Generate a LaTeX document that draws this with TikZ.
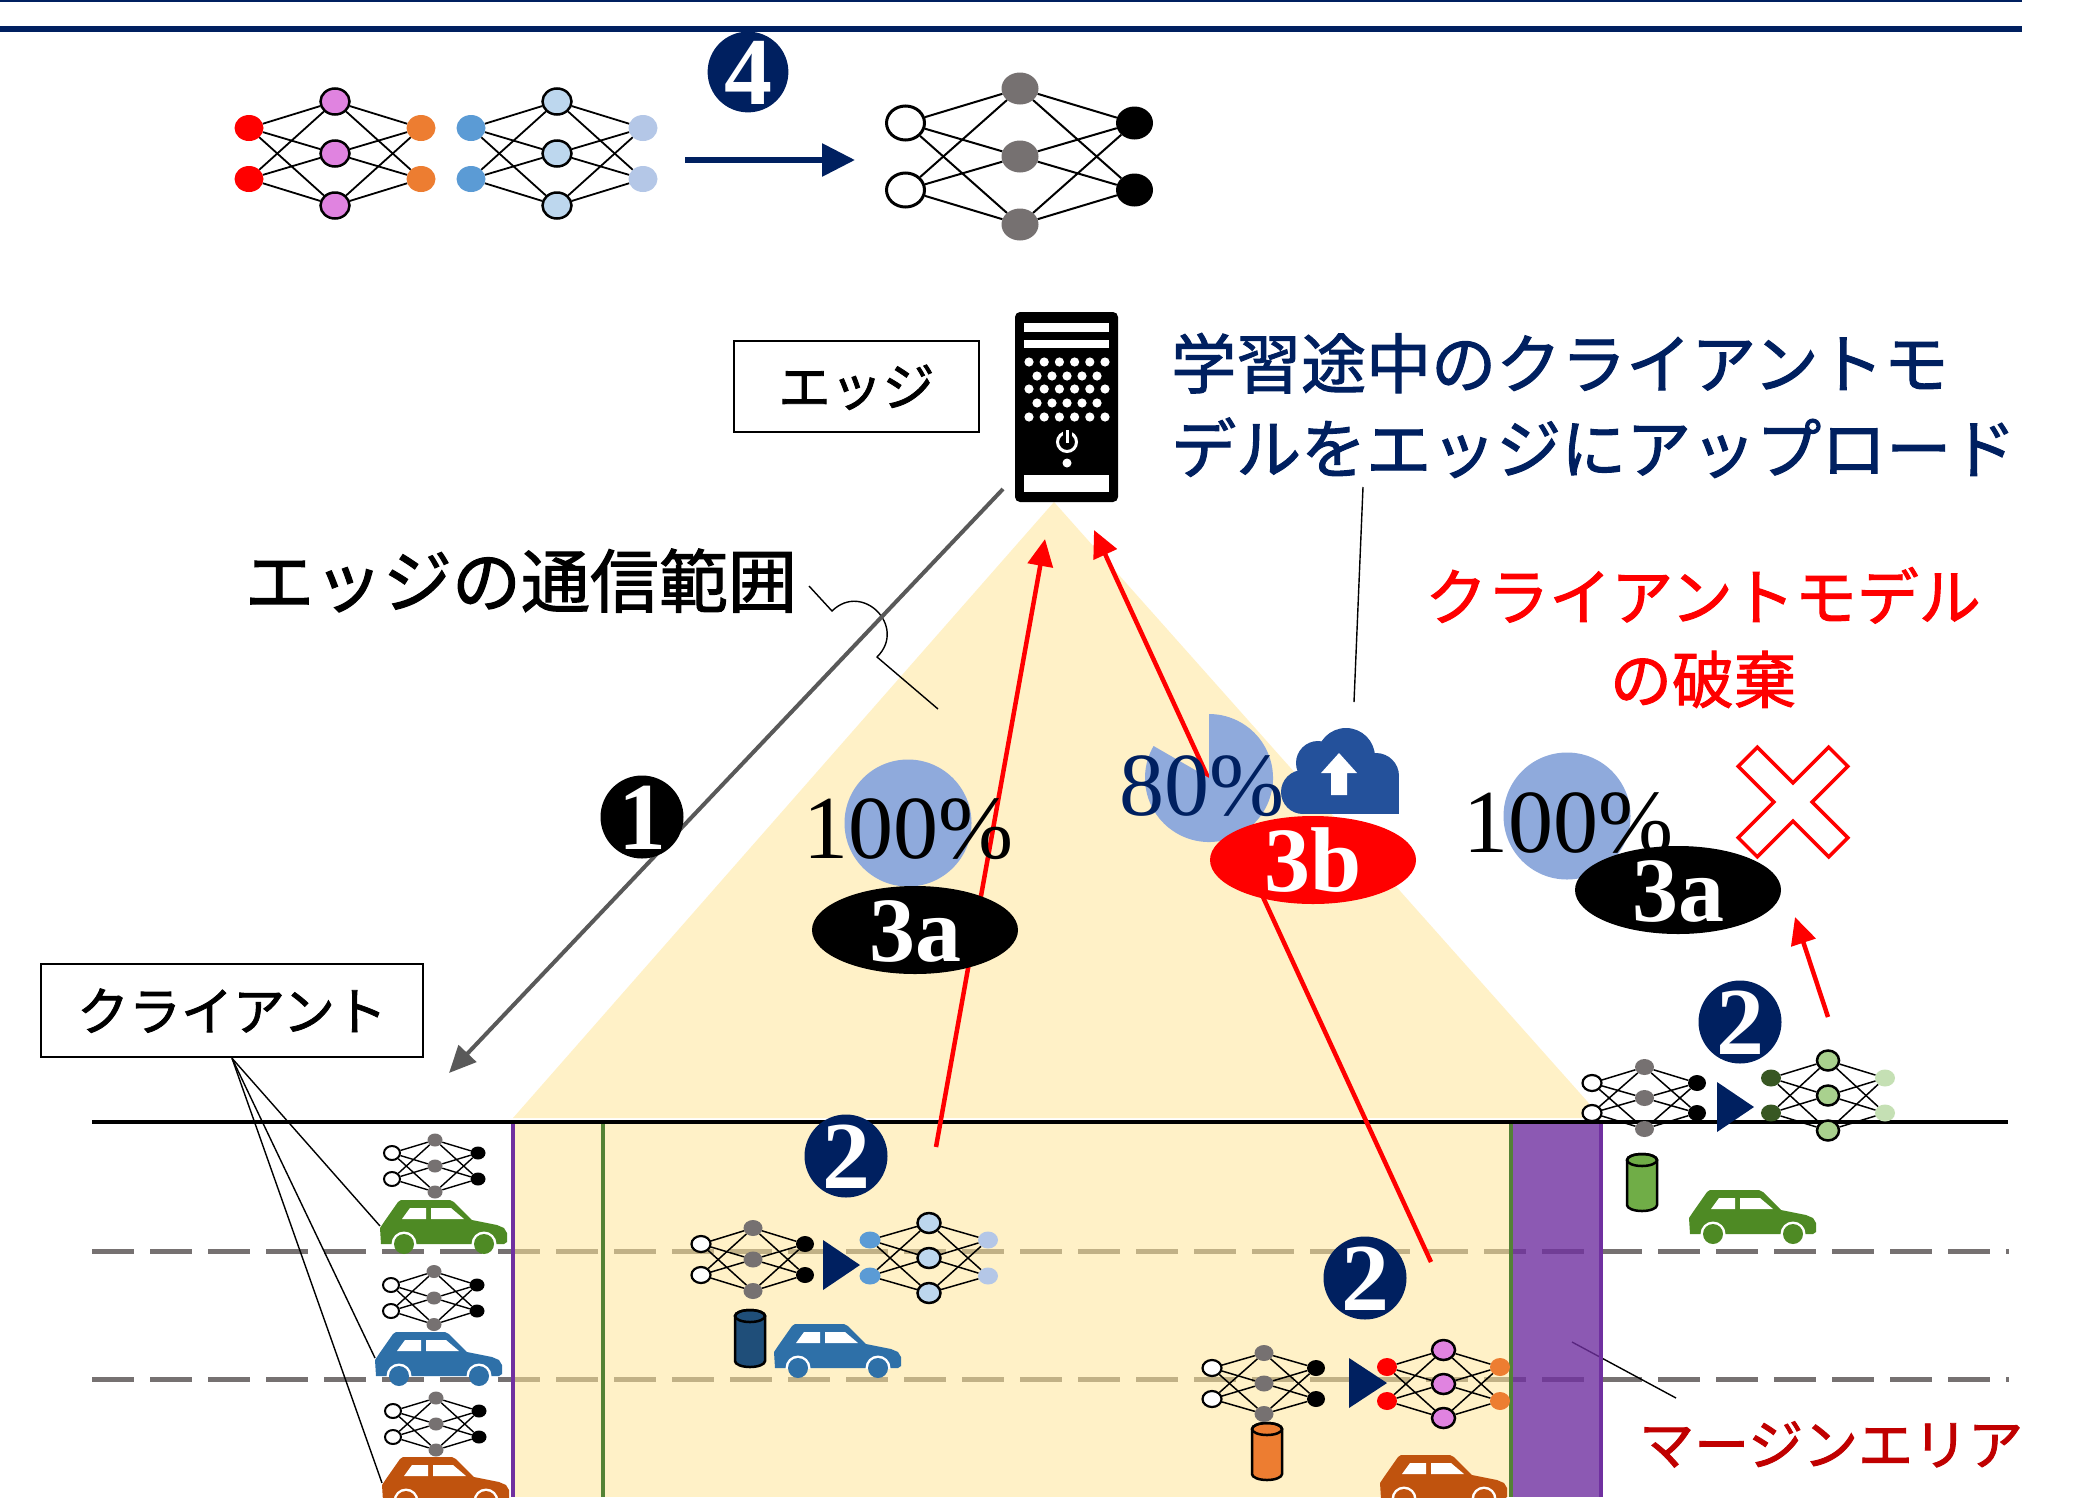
\documentclass[tikz,border=0pt]{standalone}
\usepackage{fontspec}
\setmainfont{Liberation Serif}
\newfontfamily\jpfont[RawFeature={embolden=1.6}]{Noto Sans CJK JP}
\usetikzlibrary{shapes.geometric,arrows.meta}

\definecolor{cNavy}{HTML}{002060}
\definecolor{cRed}{HTML}{FF0000}
\definecolor{cDarkRed}{HTML}{C00000}
\definecolor{cViolet}{HTML}{E083E0}
\definecolor{cOrange}{HTML}{ED7D31}
\definecolor{cBlueIn}{HTML}{5B9BD5}
\definecolor{cBlueHid}{HTML}{BDD7EE}
\definecolor{cBlueOut}{HTML}{B4C7E7}
\definecolor{cGray}{HTML}{767171}
\definecolor{cGreenIn}{HTML}{385723}
\definecolor{cGreenHid}{HTML}{A9D18E}
\definecolor{cGreenOut}{HTML}{C5E0B4}
\definecolor{cCarGreen}{HTML}{4E8A24}
\definecolor{cCarBlue}{HTML}{2E70A8}
\definecolor{cCarOrange}{HTML}{C0530E}
\definecolor{cCylNavy}{HTML}{1F4E79}
\definecolor{cCylGreen}{HTML}{70AD47}
\definecolor{cPie}{HTML}{8FAADC}
\definecolor{cCloud}{HTML}{24519B}
\definecolor{cRange}{HTML}{FFE699}
\definecolor{cMargin}{HTML}{7030A0}
\definecolor{cLineGreen}{HTML}{548235}
\definecolor{cArrowGray}{HTML}{595959}

\newcommand{\jfs}[1]{\jpfont\fontsize{#1}{#1}\selectfont}
\newcommand{\rmfs}[1]{\rmfamily\fontsize{#1}{#1}\selectfont}
\newcommand{\bffs}[1]{\rmfamily\bfseries\fontsize{#1}{#1}\selectfont}

\tikzset{
  nnedge/.style={line width=1.5},
  netnode/.style 2 args={ellipse, inner sep=0, minimum width=#1, minimum height=#2},
  badge/.style={circle, minimum size=83, inner sep=0, text=white, font=\bffs{96}, text height=65pt, text depth=0pt},
  stepmark/.style={ellipse, minimum width=206, minimum height=88, inner sep=0, text=white, font=\bffs{92}, text height=62pt, text depth=0pt},
  labelbox/.style={draw=black, line width=2.5, inner sep=0},
  leader/.style={line width=1.4, black},
  lanedash/.style={cGray, line width=5, dash pattern=on 42pt off 16pt},
  rangefill/.style={fill=cRange, fill opacity=0.55},
  redarrow/.style={cRed, line width=4.5, -{Triangle[length=27pt,width=25pt]}},
  pct/.style={anchor=base, inner sep=0, font=\rmfs{90}},
  jtext/.style={anchor=base, inner sep=0, font=\jfs{#1}},
  % client networks
  netS/.style={nin/.style={netnode={16}{14}, fill=white, draw=black, line width=2},
               nhid/.style={netnode={15}{13}, fill=cGray},
               nout/.style={netnode={15}{13}, fill=black},
               nnedge/.style={line width=1.4}},
  netM/.style={nin/.style={netnode={19}{16}, fill=white, draw=black, line width=2.2},
               nhid/.style={netnode={19}{16}, fill=cGray},
               nout/.style={netnode={18}{16}, fill=black},
               nnedge/.style={line width=1.5}},
  netBlue/.style={nin/.style={netnode={21}{17}, fill=cBlueIn},
                  nhid/.style={netnode={23}{20}, fill=cBlueHid, draw=black, line width=2.5},
                  nout/.style={netnode={20}{17}, fill=cBlueOut},
                  nnedge/.style={line width=1.5}},
  netGreen/.style={nin/.style={netnode={20}{17}, fill=cGreenIn},
                   nhid/.style={netnode={22}{20}, fill=cGreenHid, draw=black, line width=2.5},
                   nout/.style={netnode={20}{17}, fill=cGreenOut},
                   nnedge/.style={line width=1.5}},
  netPink/.style={nin/.style={netnode={20}{18}, fill=cRed},
                  nhid/.style={netnode={23}{20}, fill=cViolet, draw=black, line width=2.5},
                  nout/.style={netnode={20}{18}, fill=cOrange},
                  nnedge/.style={line width=1.5}},
  % aggregated networks at the top
  netTopA/.style={nin/.style={netnode={29}{26}, fill=cRed},
                  nhid/.style={netnode={29}{26}, fill=cViolet, draw=black, line width=2.5},
                  nout/.style={netnode={29}{26}, fill=cOrange},
                  nnedge/.style={line width=1.8}},
  netTopB/.style={nin/.style={netnode={29}{26}, fill=cBlueIn},
                  nhid/.style={netnode={29}{26}, fill=cBlueHid, draw=black, line width=2.5},
                  nout/.style={netnode={29}{26}, fill=cBlueOut},
                  nnedge/.style={line width=1.8}},
  netTopC/.style={nin/.style={netnode={38}{34}, fill=white, draw=black, line width=3},
                  nhid/.style={netnode={37}{32}, fill=cGray},
                  nout/.style={netnode={37}{33}, fill=black},
                  nnedge/.style={line width=2}},
}

% 2-3-2 network: name, centre x, centre y, half width, input/output offset, hidden offset
\newcommand{\drawnet}[6]{%
  \node[nin]  (#1i1) at (#2-#4,#3-#5) {};
  \node[nin]  (#1i2) at (#2-#4,#3+#5) {};
  \node[nhid] (#1h1) at (#2,#3-#6) {};
  \node[nhid] (#1h2) at (#2,#3) {};
  \node[nhid] (#1h3) at (#2,#3+#6) {};
  \node[nout] (#1o1) at (#2+#4,#3-#5) {};
  \node[nout] (#1o2) at (#2+#4,#3+#5) {};
  \foreach \q in {h1,h2,h3}{%
    \draw[nnedge] (#1i1) -- (#1\q);
    \draw[nnedge] (#1i2) -- (#1\q);
    \draw[nnedge] (#1\q) -- (#1o1);
    \draw[nnedge] (#1\q) -- (#1o2);
  }%
}

% car seen from the side: name, left x, top y, colour
\newcommand{\drawcar}[4]{%
  \begin{scope}[shift={(#2,#3)}]
    \fill[#4] (1,44) -- (0,28) -- (4,22) -- (18,2) -- (21,0) -- (70,0) -- (74,2)
      -- (92,20) -- (117,25) -- (124,28) -- (127,33) -- (127,42) -- (124,44) -- cycle;
    \fill[white] (22,19) -- (30,8) -- (46,8) -- (46,19) -- cycle;
    \fill[white] (51,8) -- (71,8) -- (84,19) -- (51,19) -- cycle;
    \begin{scope}
      \clip (-5,-5) rectangle (132,44);
      \fill[white] (24,44) circle (12.5pt) (104,44) circle (12.5pt);
    \end{scope}
    \fill[#4] (24,44) circle (10pt) (104,44) circle (10pt);
    \coordinate (#1) at (0,26);
  \end{scope}%
}

% data cylinder: left x, top y, colour
\newcommand{\drawcyl}[3]{%
  \filldraw[fill=#3, draw=black, line width=2.5] (#1,#2+6) -- (#1,#2+51)
    arc[start angle=180, end angle=360, x radius=15pt, y radius=6pt] -- (#1+30,#2+6)
    arc[start angle=0, end angle=180, x radius=15pt, y radius=6pt] -- cycle;
  \draw[line width=2.5] (#1+15,#2+6) ellipse [x radius=15pt, y radius=6pt];
}

\begin{document}
\begin{tikzpicture}[x=1pt,y=-1pt]
\useasboundingbox (0,0) rectangle (2087,1497);
\clip (0,0) rectangle (2087,1497);
\fill[white] (0,0) rectangle (2087,1497);

% header rules
\fill[cNavy] (0,0) rectangle (2022,1.6);
\fill[cNavy] (0,26) rectangle (2022,32);

% road
\draw[lanedash] (92,1251) -- (2009,1251);
\draw[lanedash] (92,1379) -- (2009,1379);
\draw[line width=4] (92,1122) -- (2008,1122);

% margin area label and its leader
\node[jtext=55, anchor=base west, text=cDarkRed] (marginlbl) at (1639,1465) {マージンエリア};
\coordinate (mgA) at (1572,1342);
\coordinate (mgB) at (1676,1398);
\draw[leader] (mgA) -- (mgB);

% communication range of the edge
\fill[rangefill] (1054,502) -- (1602,1118) -- (513,1118) -- cycle;
\fill[rangefill] (513,1124) rectangle (1511,1497);
\fill[cMargin, fill opacity=0.8] (1511,1124) rectangle (1601,1497);
\draw[cMargin, line width=4] (513,1124) -- (513,1497);
\draw[cMargin, line width=3.5] (1601,1124) -- (1601,1497);
\draw[cLineGreen, line width=4] (603,1124) -- (603,1497);
\draw[cLineGreen, line width=4] (1511,1124) -- (1511,1497);

% vehicles
\drawcar{carG1}{380}{1200}{cCarGreen}
\drawcar{carB1}{375}{1332}{cCarBlue}
\drawcar{carO1}{382}{1457}{cCarOrange}
\drawcar{carB2}{774}{1324}{cCarBlue}
\drawcar{carG2}{1689}{1190}{cCarGreen}
\drawcar{carO2}{1380}{1455}{cCarOrange}

% local data
\drawcyl{735}{1310}{cCylNavy}
\drawcyl{1252}{1423}{cOrange}
\drawcyl{1627}{1154}{cCylGreen}

% client models
\begin{scope}[netS]
  \drawnet{cm1}{435}{1166}{43}{13}{26}
  \drawnet{cm2}{434}{1298}{43}{13}{26.5}
  \drawnet{cm3}{436}{1424}{43}{13}{26}
\end{scope}
\begin{scope}[netM]
  \drawnet{gm1}{753}{1259.5}{52}{15.5}{31.5}
  \drawnet{gm2}{1264}{1383.5}{52}{15.5}{30.5}
  \drawnet{gm3}{1644.5}{1098}{52.5}{15}{31}
\end{scope}
\begin{scope}[netBlue]
  \drawnet{bm}{929}{1258}{59}{18}{35}
\end{scope}
\begin{scope}[netPink]
  \drawnet{pm}{1443.5}{1384}{56.5}{17}{34}
\end{scope}
\begin{scope}[netGreen]
  \drawnet{em}{1828}{1095.5}{57}{17.5}{35}
\end{scope}

% local training steps
\fill[cNavy] (823,1240) -- (860,1265) -- (823,1290) -- cycle;
\fill[cNavy] (1349,1358) -- (1387,1383) -- (1349,1408) -- cycle;
\fill[cNavy] (1717,1082) -- (1754,1107) -- (1717,1132) -- cycle;

% aggregated models at the top
\begin{scope}[netTopA]
  \drawnet{ta}{335}{153.5}{86}{25.5}{52}
\end{scope}
\begin{scope}[netTopB]
  \drawnet{tb}{557}{153.5}{86}{25.5}{52}
\end{scope}
\begin{scope}[netTopC]
  \drawnet{tc}{1020}{156.5}{114.5}{33.5}{68}
\end{scope}
\coordinate (aggS) at (685,160);
\coordinate (aggT) at (855,160);
\draw[cNavy, line width=6, -{Triangle[length=33pt,width=32pt]}] (aggS) -- (aggT);

% edge server
\node[fill=black, rounded corners=5, minimum width=103, minimum height=190, inner sep=0] (server) at (1066.5,407) {};
\fill[white] (1024,323) rectangle (1109,332);
\fill[white] (1024,340) rectangle (1109,348);
\foreach \yy in {362,389,417} \foreach \k in {0,...,5} \fill[white] (1029+15.2*\k,\yy) circle (4.6pt);
\foreach \yy in {376,403} \foreach \k in {0,...,4} \fill[white] (1037+15*\k,\yy) circle (4.6pt);
\draw[white, line width=3] (1067,442) circle (9.5pt);
\fill[black] (1062.5,428) rectangle (1071.5,437);
\draw[white, line width=3] (1067,430) -- (1067,443);
\fill[white] (1067,463) circle (4.5pt);
\fill[white] (1024,475) rectangle (1109,492);

% labels with boxes
\node[labelbox, minimum width=245, minimum height=91] (edgebox) at (856.5,386.5) {};
\node[jtext=52] (edgelbl) at (856.5,406) {エッジ};
\node[labelbox, minimum width=382, minimum height=93] (clientbox) at (232,1010.5) {};
\node[jtext=52] (clientlbl) at (232,1030.5) {クライアント};
\draw[leader] (clientbox.south) -- (carG1);
\draw[leader] (clientbox.south) -- (carB1);
\draw[leader] (clientbox.south) -- (carO1);

% range label with its leader hopping over the download arrow
\node[jtext=69] (rangelbl) at (521,607) {エッジの通信範囲};
\coordinate (rgA) at (809,586);
\coordinate (rgB) at (832,611);
\coordinate (rgC) at (877,657);
\coordinate (rgD) at (938,709);
\draw[leader] (rgA) -- (rgB) .. controls (862.6,581) and (907.6,627) .. (rgC) -- (rgD);

% step 1: model download
\coordinate (dlS) at (1003,489);
\coordinate (dlT) at (449,1073);
\draw[cArrowGray, line width=4, -{Triangle[length=27pt,width=24pt]}] (dlS) -- (dlT);

% upload text
\node[jtext=65, anchor=base west, text=cNavy] (uplbl1) at (1171,388) {学習途中のクライアントモ};
\node[jtext=65, anchor=base west, text=cNavy] (uplbl2) at (1171,473) {デルをエッジにアップロード};
\coordinate (upA) at (1363,487);
\coordinate (upB) at (1354,702);
\draw[leader] (upA) -- (upB);

% discard text
\node[jtext=62, text=cRed] (dellbl1) at (1703,620) {クライアントモデル};
\node[jtext=62, text=cRed] (dellbl2) at (1703,703) {の破棄};

% uploads (red)
\coordinate (u1S) at (936,1147);
\coordinate (u1T) at (1045,539);
\coordinate (u2S) at (1431,1262);
\coordinate (u2T) at (1094,530);
\coordinate (u3S) at (1828,1017);
\coordinate (u3T) at (1795,917);
\draw[redarrow] (u1S) -- (u1T);
\draw[redarrow] (u2S) -- (u2T);
\draw[redarrow] (u3S) -- (u3T);

% training progress
\node[circle, fill=cPie, minimum size=127, inner sep=0] (progA) at (908,823) {};
\node[circle, fill=cPie, minimum size=127, inner sep=0] (progC) at (1567,816) {};
\fill[cPie] (1209,778) -- ++(150:64pt) arc[start angle=150, end angle=450, radius=64pt] -- cycle;
\coordinate (progB) at (1209,778);

% upload cloud
\fill[cCloud] (1303,792) circle (22pt);
\fill[cCloud] (1318,763) circle (22pt);
\fill[cCloud] (1346,757) circle (29pt);
\fill[cCloud] (1376,776) circle (23pt);
\fill[cCloud] (1303,776) rectangle (1399,814);
\fill[white] (1321,773) -- (1339,753) -- (1357,773) -- (1347,773) -- (1347,795)
  -- (1331,795) -- (1331,773) -- cycle;

\node[pct] (pctA) at (908,858) {100\%};
\node[pct, text=cNavy] (pctB) at (1202,815) {80\%};
\node[pct] (pctC) at (1568,852) {100\%};

% step marks
\node[stepmark, fill=black] (s3a) at (915,930) {3a};
\node[stepmark, fill=cRed] (s3b) at (1313,860) {3b};
\node[stepmark, fill=black] (s3c) at (1678,890) {3a};

\node[badge, fill=cNavy, minimum size=80] (b4) at (748,72) {4};
\node[badge, fill=black] (b1) at (642,817) {1};
\node[badge, fill=cNavy] (b2a) at (846,1156) {2};
\node[badge, fill=cNavy] (b2b) at (1365,1278) {2};
\node[badge, fill=cNavy] (b2c) at (1740,1022) {2};

% discard cross
\begin{scope}[shift={(1793,802)}, rotate=45]
  \draw[cRed, line width=3.5] (64,-13.5) -- (64,13.5) -- (13.5,13.5) -- (13.5,64)
    -- (-13.5,64) -- (-13.5,13.5) -- (-64,13.5) -- (-64,-13.5) -- (-13.5,-13.5)
    -- (-13.5,-64) -- (13.5,-64) -- (13.5,-13.5) -- cycle;
\end{scope}
\end{tikzpicture}
\end{document}
